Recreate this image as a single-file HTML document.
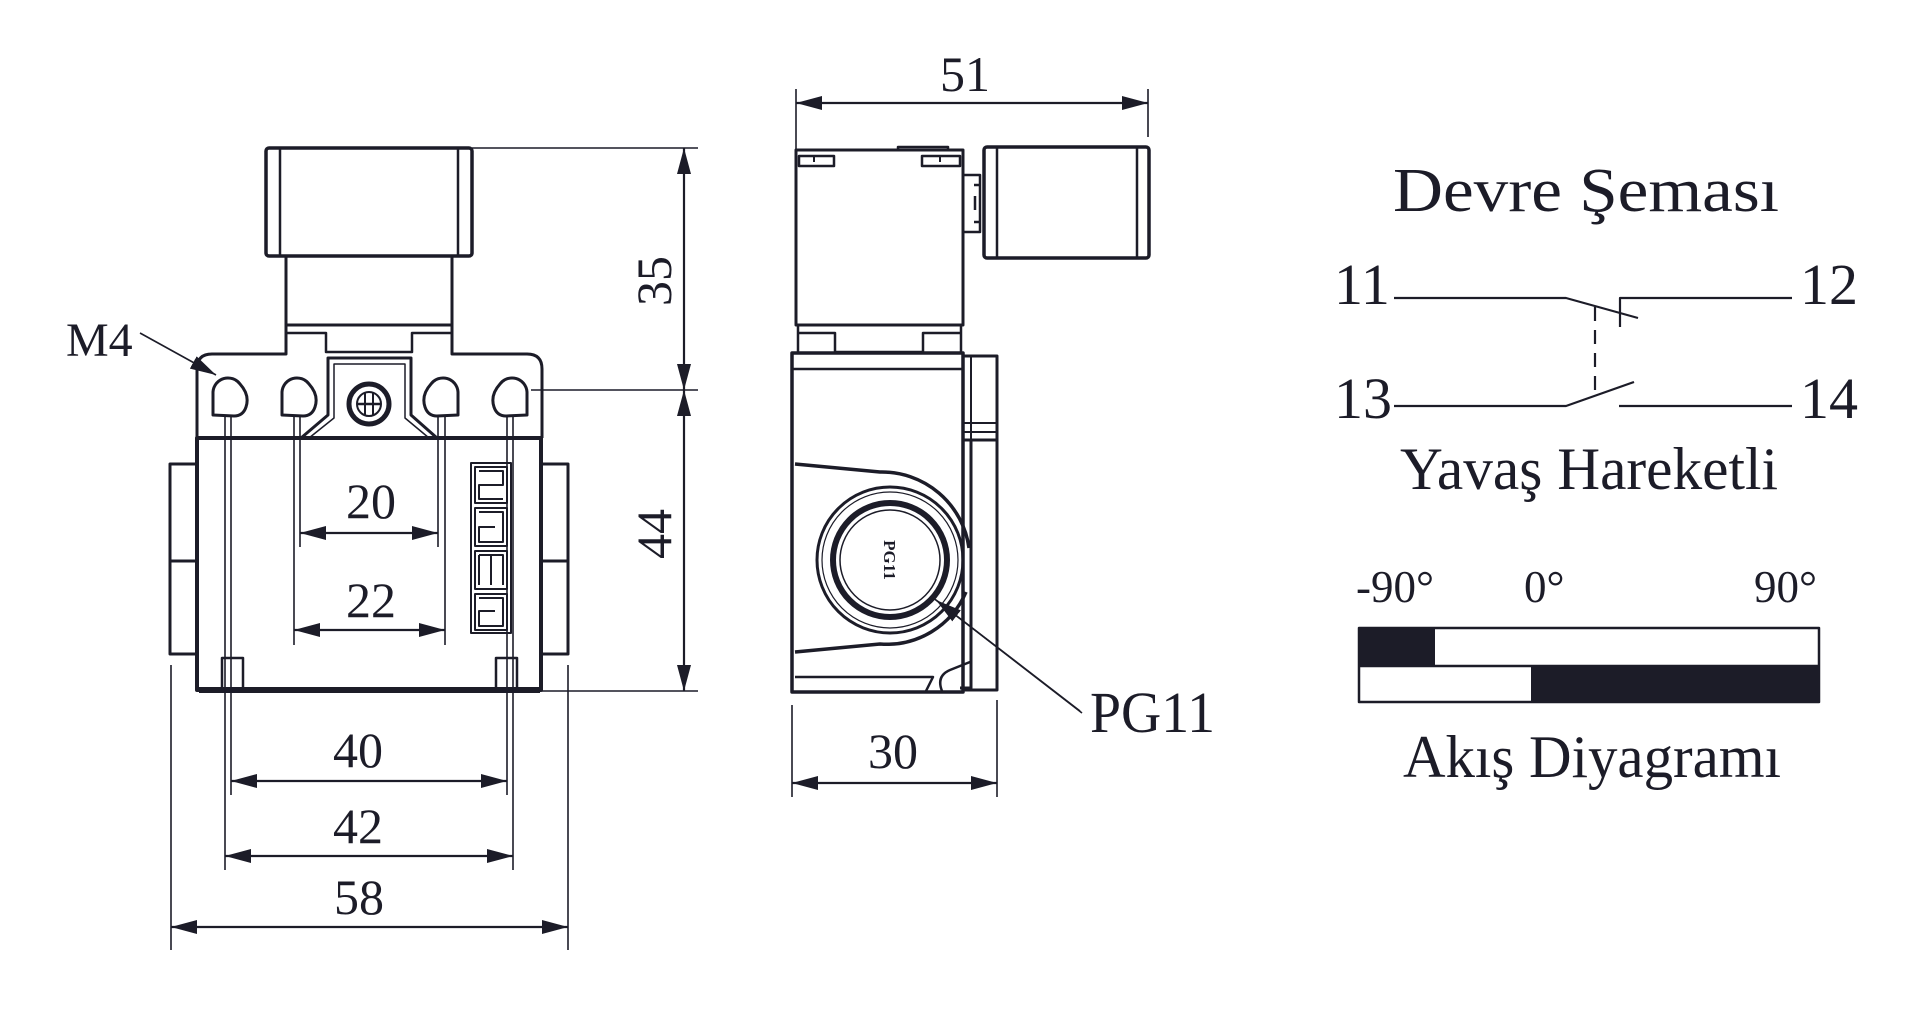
<!DOCTYPE html>
<html><head><meta charset="utf-8"><style>
html,body{margin:0;padding:0;background:#fff;}
svg{display:block;}
text{font-family:"Liberation Serif","DejaVu Serif",serif;fill:#1c1c28;}
</style></head><body>
<svg width="1920" height="1012" viewBox="0 0 1920 1012" xmlns="http://www.w3.org/2000/svg">
<defs>
<marker id="a" markerUnits="userSpaceOnUse" markerWidth="26" markerHeight="14" refX="26" refY="7" orient="auto-start-reverse">
<path d="M0,0 L26,7 L0,14 Z" fill="#1c1c28"/></marker>
</defs>
<g stroke="#1c1c28" fill="none" stroke-linejoin="round">
<!-- FRONT VIEW -->
<rect x="266" y="148" width="206" height="108" rx="3" stroke-width="3.5"/>
<line x1="280" y1="149" x2="280" y2="255" stroke-width="2.5"/>
<line x1="458" y1="149" x2="458" y2="255" stroke-width="2.5"/>
<rect x="286" y="256" width="166" height="69" stroke-width="3"/>
<path d="M197,438 V369 Q197,354 212,354 H286 V325 H452 V354 H527 Q542,354 542,369 V438" stroke-width="3"/>
<path d="M286,333 H326 V352 H412 V333 H452" stroke-width="2.5"/>
<path d="M301,438 L328,415 V358 H411 V415 L437,438" stroke-width="3"/>
<path d="M309,438 L334,418 V364 H405 V418 L429,438" stroke-width="1.5"/>
<circle cx="369" cy="404" r="20" stroke-width="5"/>
<circle cx="369" cy="404" r="12" stroke-width="2"/>
<line x1="357" y1="404" x2="381" y2="404" stroke-width="2.5"/>
<line x1="365" y1="393" x2="365" y2="415" stroke-width="2"/>
<line x1="373" y1="393" x2="373" y2="415" stroke-width="2"/>
<g stroke-width="3">
<path d="M213,415 V392 A15,15 0 0 1 240,384 Q250,395 246,407 Q243,416 234,416 Z"/>
<path d="M282,415 V392 A15,15 0 0 1 309,384 Q319,395 315,407 Q312,416 303,416 Z"/>
<path d="M458,415 V392 A15,15 0 0 0 431,384 Q421,395 425,407 Q428,416 437,416 Z"/>
<path d="M527,415 V392 A15,15 0 0 0 500,384 Q490,395 494,407 Q497,416 506,416 Z"/>
</g>
<rect x="197" y="438" width="344" height="252" stroke-width="4"/>
<line x1="199" y1="690" x2="540" y2="690" stroke-width="6"/>
<rect x="170" y="464" width="27" height="190" stroke-width="3"/>
<line x1="170" y1="561" x2="197" y2="561" stroke-width="3"/>
<rect x="541" y="464" width="27" height="190" stroke-width="3"/>
<line x1="541" y1="561" x2="568" y2="561" stroke-width="3"/>
<rect x="222" y="658" width="21" height="31" stroke-width="2.5"/>
<rect x="496" y="658" width="21" height="31" stroke-width="2.5"/>
<rect x="471" y="463" width="40" height="170" stroke-width="2"/>
<g stroke-width="2">
<rect x="475" y="467" width="32" height="36"/><path d="M479,471 H503 V485 H479 V499 H503"/>
<rect x="475" y="508" width="32" height="38"/><path d="M479,512 H503 V542 H479 V527 H495"/>
<rect x="475" y="551" width="32" height="38"/><path d="M479,555 H503 V585 M491,555 V585 M479,555 V585"/>
<rect x="475" y="594" width="32" height="36"/><path d="M479,598 H503 V626 H479 V611 H495"/>
</g>
<g stroke-width="1.6">
<line x1="225" y1="417" x2="225" y2="870"/>
<line x1="231" y1="417" x2="231" y2="795"/>
<line x1="294" y1="417" x2="294" y2="645"/>
<line x1="300" y1="417" x2="300" y2="547"/>
<line x1="438" y1="417" x2="438" y2="547"/>
<line x1="445" y1="417" x2="445" y2="645"/>
<line x1="507" y1="417" x2="507" y2="795"/>
<line x1="513" y1="417" x2="513" y2="870"/>
<line x1="171" y1="665" x2="171" y2="950"/>
<line x1="568" y1="665" x2="568" y2="950"/>
<line x1="472" y1="148" x2="698" y2="148"/>
<line x1="531" y1="390" x2="698" y2="390"/>
<line x1="542" y1="691" x2="698" y2="691"/>
<line x1="140" y1="333" x2="216" y2="375" marker-end="url(#a)"/>
</g>
<g stroke-width="2.2">
<line x1="300" y1="533" x2="438" y2="533" marker-start="url(#a)" marker-end="url(#a)"/>
<line x1="294" y1="630" x2="445" y2="630" marker-start="url(#a)" marker-end="url(#a)"/>
<line x1="231" y1="781" x2="507" y2="781" marker-start="url(#a)" marker-end="url(#a)"/>
<line x1="225" y1="856" x2="513" y2="856" marker-start="url(#a)" marker-end="url(#a)"/>
<line x1="171" y1="927" x2="568" y2="927" marker-start="url(#a)" marker-end="url(#a)"/>
<line x1="684" y1="148" x2="684" y2="390" marker-start="url(#a)" marker-end="url(#a)"/>
<line x1="684" y1="390" x2="684" y2="691" marker-start="url(#a)" marker-end="url(#a)"/>
</g>

<!-- SIDE VIEW -->
<g stroke-width="1.6">
<line x1="796" y1="89" x2="796" y2="150"/>
<line x1="1148" y1="89" x2="1148" y2="137"/>
<line x1="792" y1="705" x2="792" y2="797"/>
<line x1="997" y1="700" x2="997" y2="797"/>
<line x1="932" y1="597" x2="1082" y2="713"/>
</g>
<line x1="1080" y1="711" x2="936" y2="600" stroke-width="1.6" marker-end="url(#a)"/>
<line x1="796" y1="103" x2="1148" y2="103" stroke-width="2.2" marker-start="url(#a)" marker-end="url(#a)"/>
<line x1="792" y1="783" x2="997" y2="783" stroke-width="2.2" marker-start="url(#a)" marker-end="url(#a)"/>
<rect x="796" y="150" width="167" height="175" stroke-width="3"/>
<path d="M898,150 V147 H948 V150" stroke-width="2.5"/>
<path d="M799,166 V156 H834 V166 Z M922,166 V156 H960 V166 Z" stroke-width="2.5"/>
<line x1="814" y1="156" x2="814" y2="162" stroke-width="2"/>
<line x1="940" y1="156" x2="940" y2="162" stroke-width="2"/>
<path d="M797,325 H962 M798,333 H835 V352 H923 V333 H961 M798,325 V353 M961,325 V353" stroke-width="2.5"/>
<rect x="984" y="147" width="165" height="111" rx="3" stroke-width="3.5"/>
<line x1="997" y1="148" x2="997" y2="257" stroke-width="2.5"/>
<line x1="1137" y1="148" x2="1137" y2="257" stroke-width="2.5"/>
<path d="M963,175 H980 V232 H963 M974,185 H980 M974,222 H980 M975,196 V210" stroke-width="2.5"/>
<path d="M797,353 H963 V692 H792 V353 Z" stroke-width="3.5"/>
<line x1="793" y1="369" x2="963" y2="369" stroke-width="2.5"/>
<rect x="963" y="356" width="34" height="84" stroke-width="3"/>
<line x1="971" y1="357" x2="971" y2="440" stroke-width="2"/>
<line x1="963" y1="423" x2="997" y2="423" stroke-width="2"/>
<line x1="963" y1="432" x2="997" y2="432" stroke-width="2"/>
<path d="M971,440 V688 H960 M997,440 V690 H963" stroke-width="3"/>
<path d="M795,464 L880,472 A88,88 0 0 1 969,548" stroke-width="3.5"/>
<path d="M795,652 L880,644 A86,86 0 0 0 966,592" stroke-width="3.5"/>
<circle cx="890" cy="560" r="73" stroke-width="3"/>
<circle cx="890" cy="560" r="68" stroke-width="1.2"/>
<circle cx="890" cy="560" r="57" stroke-width="6"/>
<circle cx="890" cy="560" r="50" stroke-width="1.5"/>
<path d="M795,677 H933 L926,691 M942,691 Q936,676 950,670 L970,662" stroke-width="2.5"/>

<!-- CIRCUIT -->
<g stroke-width="2.2">
<path d="M1394,298 H1566 L1638,318"/>
<path d="M1620,327 V298 H1792"/>
<line x1="1595" y1="307" x2="1595" y2="395" stroke-dasharray="14,9"/>
<path d="M1394,406 H1566 L1634,382"/>
<line x1="1619" y1="406" x2="1792" y2="406"/>
</g>
<rect x="1359" y="628" width="460" height="74" stroke-width="2.5"/>
<line x1="1359" y1="666" x2="1819" y2="666" stroke-width="2.5"/>
</g>
<rect x="1359" y="628" width="76" height="38" fill="#1c1c28"/>
<rect x="1531" y="666" width="288" height="36" fill="#1c1c28"/>

<!-- TEXT -->
<g font-size="50" text-anchor="middle">
<text x="371" y="518">20</text>
<text x="371" y="617">22</text>
<text x="358" y="767">40</text>
<text x="358" y="843">42</text>
<text x="359" y="914">58</text>
<text transform="translate(671,281) rotate(-90)">35</text>
<text transform="translate(671,534) rotate(-90)">44</text>
<text x="965" y="91">51</text>
<text x="893" y="768">30</text>
</g>
<text x="66" y="356" font-size="48">M4</text>
<text x="1090" y="732" font-size="58" textLength="125" lengthAdjust="spacingAndGlyphs">PG11</text>
<text transform="translate(884,560) rotate(90)" font-size="17" font-weight="bold" text-anchor="middle" font-family="Liberation Sans, sans-serif">PG11</text>
<text x="1393" y="211" font-size="62" textLength="386" lengthAdjust="spacingAndGlyphs">Devre Şeması</text>
<text x="1334" y="304" font-size="58">11</text>
<text x="1800" y="304" font-size="58">12</text>
<text x="1334" y="418" font-size="58">13</text>
<text x="1800" y="418" font-size="58">14</text>
<text x="1400" y="489" font-size="60" textLength="378" lengthAdjust="spacingAndGlyphs">Yavaş Hareketli</text>
<text x="1356" y="602" font-size="45">-90°</text>
<text x="1524" y="602" font-size="45">0°</text>
<text x="1754" y="602" font-size="45">90°</text>
<text x="1403" y="777" font-size="60" textLength="378" lengthAdjust="spacingAndGlyphs">Akış Diyagramı</text>
</svg>
</body></html>
